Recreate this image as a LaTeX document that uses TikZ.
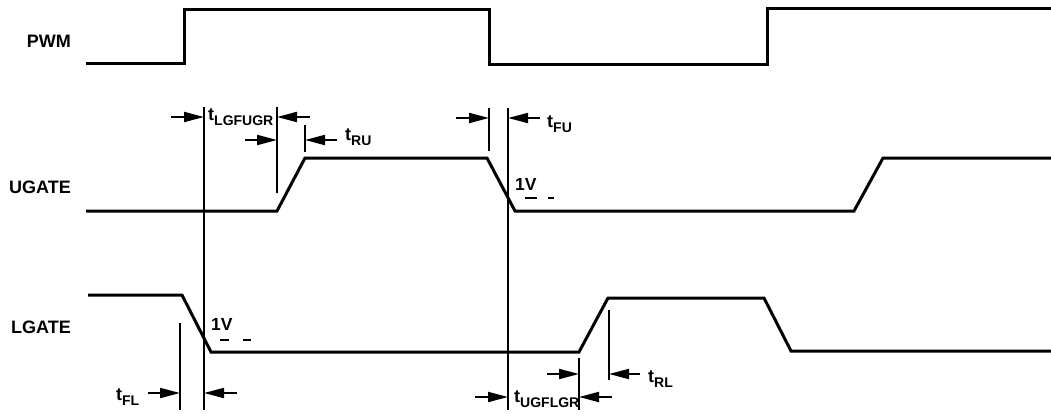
\documentclass[tikz,border=0pt]{standalone}
\usepackage{fontspec}
\setmainfont{Liberation Sans}
\usetikzlibrary{arrows.meta}
\newcommand{\tlab}[1]{t\raisebox{-5pt}{\fontsize{14}{14}\selectfont #1}}
\tikzset{
  wave/.style={line width=3pt, line join=miter},
  marker/.style={line width=1.7pt},
  dimarrow/.style={line width=2pt, arrows={-Triangle[length=20pt,width=10pt]}},
  siglabel/.style={font=\fontsize{18}{18}\selectfont\bfseries, inner sep=0pt, anchor=base east},
  tlabel/.style={font=\fontsize{18}{18}\selectfont\bfseries, inner sep=0pt, anchor=base west},
  vlabel/.style={font=\fontsize{17.5}{17.5}\selectfont\bfseries, inner sep=0pt, anchor=base west},
  thresh/.style={line width=1.8pt}
}
\begin{document}
\begin{tikzpicture}[x=1pt, y=-1pt]
\useasboundingbox (0,0) rectangle (1051,416);
% signal names
\node[siglabel] (pwm) at (71,47.5) {PWM};
\node[siglabel] (ugate) at (71,193) {UGATE};
\node[siglabel] (lgate) at (71,333) {LGATE};
% waveforms
\draw[wave] (86,63) -- (184,63) -- (184,9) -- (489,9) -- (489,64) -- (767,64) -- (767,8) -- (1053,8);
\draw[wave] (86,211) -- (277,211) -- (305,158) -- (487,158) -- (515,211) -- (854,211) -- (883,158) -- (1053,158);
\draw[wave] (88,295) -- (182,295) -- (211,352) -- (579,352) -- (608,298) -- (764,298) -- (791,351) -- (1053,351);
% threshold marks
\draw[thresh, dash pattern=on 12pt off 11pt] (525,198) -- (554,198);
\draw[thresh, dash pattern=on 9pt off 14pt] (220,340) -- (251,340);
\node[vlabel] (u1v) at (515,190) {1V};
\node[vlabel] (l1v) at (211,330) {1V};
% marker lines
\coordinate (A1) at (204,107); \coordinate (A2) at (204,410);
\coordinate (B1) at (277,107); \coordinate (B2) at (277,193);
\coordinate (C1) at (305,125); \coordinate (C2) at (305,152);
\coordinate (D1) at (489,108); \coordinate (D2) at (489,151);
\coordinate (E1) at (508,108); \coordinate (E2) at (508,410);
\coordinate (F1) at (180,323); \coordinate (F2) at (180,410);
\coordinate (G1) at (579,358); \coordinate (G2) at (579,410);
\coordinate (H1) at (609,310); \coordinate (H2) at (609,380);
\foreach \m in {A,B,C,D,E,F,G,H} {\draw[marker] (\m1) -- (\m2);}
% dimension arrows
\coordinate (a1s) at (171,117); \coordinate (a1e) at (204,117);
\coordinate (a2s) at (310,117); \coordinate (a2e) at (277,117);
\draw[dimarrow] (a1s) -- (a1e);
\draw[dimarrow] (a2s) -- (a2e);
\coordinate (b1s) at (245,140); \coordinate (b1e) at (277,140);
\coordinate (b2s) at (337,140); \coordinate (b2e) at (305,140);
\draw[dimarrow] (b1s) -- (b1e);
\draw[dimarrow] (b2s) -- (b2e);
\coordinate (c1s) at (456,118); \coordinate (c1e) at (489,118);
\coordinate (c2s) at (540,118); \coordinate (c2e) at (508,118);
\draw[dimarrow] (c1s) -- (c1e);
\draw[dimarrow] (c2s) -- (c2e);
\coordinate (d1s) at (148,393); \coordinate (d1e) at (180,393);
\coordinate (d2s) at (237,393); \coordinate (d2e) at (204,393);
\draw[dimarrow] (d1s) -- (d1e);
\draw[dimarrow] (d2s) -- (d2e);
\coordinate (e1s) at (475,397); \coordinate (e1e) at (508,397);
\coordinate (e2s) at (612,397); \coordinate (e2e) at (579,397);
\draw[dimarrow] (e1s) -- (e1e);
\draw[dimarrow] (e2s) -- (e2e);
\coordinate (f1s) at (547,374); \coordinate (f1e) at (579,374);
\coordinate (f2s) at (640,374); \coordinate (f2e) at (609,374);
\draw[dimarrow] (f1s) -- (f1e);
\draw[dimarrow] (f2s) -- (f2e);
% timing labels
\node[tlabel] (tlgfugr) at (208,120) {\tlab{LGFUGR}};
\node[tlabel] (tru) at (345,140) {\tlab{RU}};
\node[tlabel] (tfu) at (547,127) {\tlab{FU}};
\node[tlabel] (tfl) at (116,400) {\tlab{FL}};
\node[tlabel] (tugflgr) at (514,402) {\tlab{UGFLGR}};
\node[tlabel] (trl) at (648,382) {\tlab{RL}};
\end{tikzpicture}
\end{document}
